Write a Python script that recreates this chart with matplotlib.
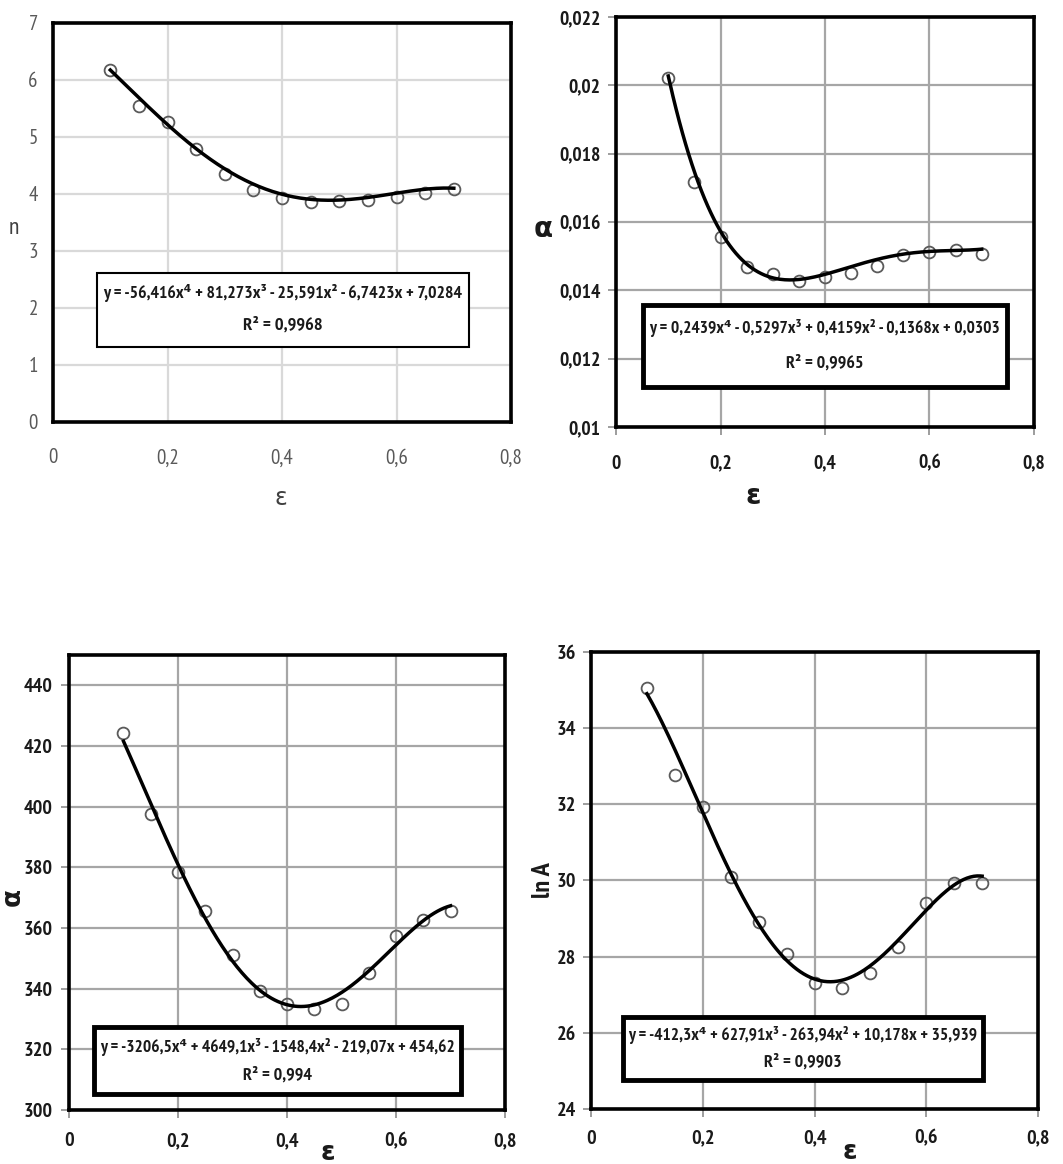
import numpy as np
import matplotlib
matplotlib.use("Agg")
import matplotlib.pyplot as plt
from matplotlib.ticker import FuncFormatter
from matplotlib.patches import Rectangle
from matplotlib import font_manager as fm

_avail = set(f.name for f in fm.fontManager.ttflist)
_cands = ['PT Sans Narrow', 'Roboto Condensed', 'Archivo Narrow', 'Fira Sans Condensed',
          'Open Sans Condensed', 'Encode Sans Condensed', 'Liberation Sans Narrow',
          'IBM Plex Sans Condensed', 'Barlow Semi Condensed', 'Carlito', 'Liberation Sans']
MAIN = next((c for c in _cands if c in _avail), 'DejaVu Sans')
FONT = [MAIN, 'DejaVu Sans']
plt.rcParams['font.family'] = FONT

# ---------------- data ----------------
eps = [0.1, 0.15, 0.2, 0.25, 0.3, 0.35, 0.4, 0.45, 0.5, 0.55, 0.6, 0.65, 0.7]

n_vals = [6.17, 5.55, 5.27, 4.79, 4.35, 4.07, 3.93, 3.85, 3.87, 3.90, 3.94, 4.02, 4.09]
alpha_vals = [0.02022, 0.01717, 0.01557, 0.01468, 0.01449, 0.01428, 0.01440, 0.01450,
              0.01472, 0.01503, 0.01511, 0.01518, 0.01505]
q_vals = [424.3, 397.7, 378.3, 365.6, 351.1, 339.1, 335.0, 333.2, 334.9, 345.3, 357.3, 362.6, 365.7]
lnA_vals = [35.05, 32.77, 31.92, 30.08, 28.90, 28.07, 27.30, 27.18, 27.56, 28.24, 29.42, 29.92, 29.92]

# trendline coefficients (highest power first), as printed on the chart
n_coef = [-56.416, 81.273, -25.591, -6.7423, 7.0284]
alpha_coef = [0.2439, -0.5297, 0.4159, -0.1368, 0.0303]
q_coef = [-3206.5, 4649.1, -1548.4, -219.07, 454.62]
lnA_coef = [-412.3, 627.91, -263.94, 10.178, 35.939]

eq_texts = [
    "y = -56,416x\u2074 + 81,273x\u00b3 - 25,591x\u00b2 - 6,7423x + 7,0284\nR\u00b2 = 0,9968",
    "y = 0,2439x\u2074 - 0,5297x\u00b3 + 0,4159x\u00b2 - 0,1368x + 0,0303\nR\u00b2 = 0,9965",
    "y = -3206,5x\u2074 + 4649,1x\u00b3 - 1548,4x\u00b2 - 219,07x + 454,62\nR\u00b2 = 0,994",
    "y = -412,3x\u2074 + 627,91x\u00b3 - 263,94x\u00b2 + 10,178x + 35,939\nR\u00b2 = 0,9903",
]
y_labels = ["n", "\u03b1", "\u03b1", "ln A"]
x_label = "\u03b5"

x_ticks = [0, 0.2, 0.4, 0.6, 0.8]
y_ticks = [
    [0, 1, 2, 3, 4, 5, 6, 7],
    [0.01, 0.012, 0.014, 0.016, 0.018, 0.02, 0.022],
    [300, 320, 340, 360, 380, 400, 420, 440],
    [24, 26, 28, 30, 32, 34, 36],
]

# ---------------- layout / style ----------------
fig = plt.figure(figsize=(10.63, 11.64), dpi=100)

def comma_fmt(v, pos):
    s = "{:g}".format(round(v, 6))
    return s.replace(".", ",")

panels = [
    dict(rect=[0.0499, 0.6375, 0.4309, 0.3428], ylim=(0, 7), data=n_vals, coef=n_coef,
         grid='#d9d9d9', tickcol='#595959', weight='normal', ticklen=0, tsize=15,
         xpad=19, ypad=11, box=(0.096, 0.188, 0.812, 0.185), boxlw=1.5,
         eqy=(0.323, 0.243), eqsize=12.8,
         ylab=(-0.085, 0.486, 0), xlab=(0.498, -0.195), labcol='#404040', labsize=17),
    dict(rect=[0.5795, 0.6332, 0.3932, 0.3522], ylim=(0.01, 0.022), data=alpha_vals, coef=alpha_coef,
         grid='#a6a6a6', tickcol='#1a1a1a', weight='bold', ticklen=6, tsize=14,
         xpad=14, ypad=5, box=(0.065, 0.098, 0.870, 0.200), boxlw=3.5,
         eqy=(0.241, 0.156), eqsize=12.5,
         ylab=(-0.175, 0.48, 0), xlab=(0.328, -0.171), labcol='#1a1a1a', labsize=20),
    dict(rect=[0.0649, 0.0464, 0.4102, 0.3909], ylim=(300, 450), data=q_vals, coef=q_coef,
         grid='#a6a6a6', tickcol='#1a1a1a', weight='bold', ticklen=6, tsize=14.5,
         xpad=10, ypad=6, box=(0.057, 0.035, 0.842, 0.147), boxlw=3.5,
         eqy=(0.138, 0.077), eqsize=12.5,
         ylab=(-0.128, 0.468, 90), xlab=(0.594, -0.095), labcol='#1a1a1a', labsize=19),
    dict(rect=[0.556, 0.0473, 0.4205, 0.3926], ylim=(24, 36), data=lnA_vals, coef=lnA_coef,
         grid='#a6a6a6', tickcol='#1a1a1a', weight='bold', ticklen=6, tsize=14.5,
         xpad=9, ypad=5, box=(0.072, 0.063, 0.805, 0.138), boxlw=3.5,
         eqy=(0.162, 0.103), eqsize=12.5,
         ylab=(-0.106, 0.501, 90), xlab=(0.579, -0.095), labcol='#1a1a1a', labsize=19),
]

xfit = np.linspace(eps[0], eps[-1], 200)

for i, p in enumerate(panels):
    ax = fig.add_axes(p['rect'])
    ax.set_xlim(0, 0.8)
    ax.set_ylim(*p['ylim'])
    ax.set_xticks(x_ticks)
    ax.set_yticks(y_ticks[i])
    ax.xaxis.set_major_formatter(FuncFormatter(comma_fmt))
    ax.yaxis.set_major_formatter(FuncFormatter(comma_fmt))
    ax.grid(True, color=p['grid'], linewidth=1.6)
    ax.set_axisbelow(True)
    for sp in ax.spines.values():
        sp.set_linewidth(2.6)
        sp.set_color('black')
    ax.tick_params(axis='both', length=p['ticklen'], width=1.2, color='#8c8c8c',
                   labelsize=p['tsize'], labelcolor=p['tickcol'])
    ax.tick_params(axis='x', pad=p['xpad'])
    ax.tick_params(axis='y', pad=p['ypad'])
    for lab in ax.get_xticklabels() + ax.get_yticklabels():
        lab.set_fontweight(p['weight'])

    ax.plot(eps, p['data'], linestyle='none', marker='o', markersize=8.5,
            markerfacecolor='none', markeredgecolor='#5a5a5a', markeredgewidth=1.3, zorder=3)
    ax.plot(xfit, np.polyval(p['coef'], xfit), color='black', linewidth=2.5, zorder=4)

    bx, by, bw, bh = p['box']
    ax.add_patch(Rectangle((bx, by), bw, bh, transform=ax.transAxes, facecolor='white',
                           edgecolor='black', linewidth=p['boxlw'], zorder=5))
    l1, l2 = eq_texts[i].split("\n")
    cx = bx + bw / 2
    ax.text(cx, p['eqy'][0], l1, transform=ax.transAxes, ha='center', va='center',
            fontsize=p['eqsize'], fontweight='bold', color='#1a1a1a', zorder=6, family=FONT)
    ax.text(cx, p['eqy'][1], l2, transform=ax.transAxes, ha='center', va='center',
            fontsize=p['eqsize'] + 0.5, fontweight='bold', color='#1a1a1a', zorder=6, family=FONT)

    yx, yy, rot = p['ylab']
    ax.text(yx, yy, y_labels[i], transform=ax.transAxes, ha='center', va='center',
            rotation=rot, fontsize=p['labsize'], fontweight='bold' if i else 'normal',
            color=p['labcol'], clip_on=False)
    ax.text(p['xlab'][0], p['xlab'][1], x_label, transform=ax.transAxes, ha='center',
            va='center', fontsize=p['labsize'], fontweight='bold' if i else 'normal',
            color=p['labcol'], clip_on=False)

fig.savefig("out.png", dpi=100)
